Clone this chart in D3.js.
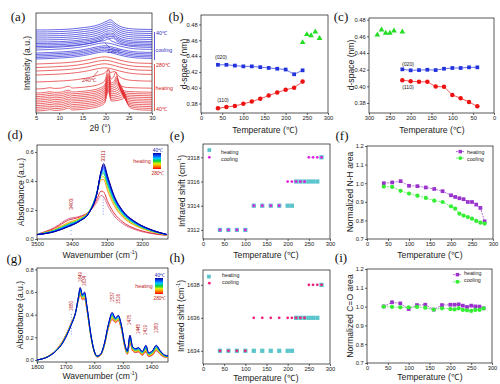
<!DOCTYPE html>
<html>
<head>
<meta charset="utf-8">
<script src="https://cdn.jsdelivr.net/npm/d3@7"></script>
<style>
  body { margin: 0; background: #fff; }
</style>
</head>
<body>
<svg id="fig" width="500" height="384"></svg>
<script>
// ---------- (a) XRD stacks ----------
const heatT = [40,60,80,100,120,140,160,180,200,210,220,230,240,250,260,270,280];
const heatBase = [2,3.8,5.6,7.4,9.2,11,12.8,14.6,16.4,18.2,20,24,31,38,42,45.5,49];
const heatP2 = [24.2,24.0,23.8,23.6,23.4,23.2,23.0,22.8,22.6,22.5,22.4,22.2];   // 2nd reflection, 40..230
const alphaLeft = [[5,0],[7,0.6],[8,1.3],[9,0.6],[10.5,1],[12.1,2.8],[12.8,1],[14.5,1.5],[16.5,2.5],[18.5,4.5],[19.8,8],[20.6,20],[21.2,10]];
const alphaRight = [[-0.5,12],[0,17],[0.5,8],[1.2,3],[2.5,1.5]];   // relative to 2nd peak
const alphaTail = [[28,1],[30,0.8]];
const heat240 = [[5,0],[8,0.5],[11,1.2],[14,2.5],[16.5,4.5],[18.5,7],[19.8,9],[20.5,12],[21.1,9.5],[21.9,10.5],[22.8,6],[24,3],[26,1.5],[30,0.8]];
const meltShape = [[5,0],[8,0.5],[11,1.2],[14,2.5],[16.5,4.5],[18.5,6.5],[19.8,7.2],[21,6.5],[23,4],[25,2],[27,1],[30,0.6]];
const coolT = [280,270,260,250,240,230,220,210,200,180,160,140,120,100,80,60,40];
const coolBase = [54,55.5,57,58.5,60,63,65,66.5,68,69.5,71,73,75,77,79,81,83];
const cool220 = [[5,0],[8,0.5],[11,1.2],[14,2.5],[16.5,4.5],[18.5,6.5],[19.8,7.5],[20.6,9],[21.3,7],[23,4],[25,2],[27,1],[30,0.6]];
const coolCryst = [[5,0],[10,0.4],[13,1.2],[15.5,2.5],[17.5,4],[19.2,6.5],[20.3,9],[21,10],[21.6,8.5],[22.4,5.5],[23.5,3],[25,1.5],[27,0.8],[30,0.5]];
const coolPeak = [8,8.3,8.6,8.9,9.2,9.4,9.6,9.8,10,10.3];   // 210..40

// ---------- (b) heating d-spacing ----------
const bT = [40,60,80,100,120,140,160,180,200,220,240];
const b020 = [0.429,0.429,0.428,0.427,0.427,0.426,0.425,0.424,0.423,0.417,0.422];
const b110 = [0.374,0.3755,0.377,0.3796,0.3825,0.386,0.390,0.394,0.3973,0.400,0.4077];
const bMeltT = [240,250,260,270,280];
const bMelt = [0.4573,0.4674,0.466,0.4707,0.4624];

// ---------- (c) cooling d-spacing ----------
const cT = [220,200,180,160,140,120,100,80,60,40];
const c020 = [0.4204,0.4192,0.4195,0.4199,0.4195,0.4211,0.422,0.422,0.4228,0.4228];
const c110 = [0.4074,0.4062,0.4054,0.4054,0.3998,0.3994,0.3897,0.3857,0.3812,0.376];
const cMeltT = [280,270,260,250,240,220];
const cMelt = [0.4619,0.4679,0.4639,0.4639,0.4667,0.4655];

// ---------- (d) N-H stretching spectra (40 -> 280 C) ----------
const nhWave = [3500,3450,3410,3380,3350,3330,3317,3310,3298,3280,3255,3220,3180,3130];
const nhRows = [
  [0.030,0.050,0.085,0.120,0.185,0.300,0.470,0.520,0.430,0.300,0.195,0.120,0.070,0.032],
  [0.030,0.051,0.087,0.121,0.186,0.302,0.465,0.510,0.423,0.296,0.192,0.118,0.069,0.032],
  [0.030,0.052,0.089,0.122,0.187,0.304,0.460,0.500,0.415,0.291,0.189,0.116,0.068,0.031],
  [0.030,0.053,0.091,0.123,0.188,0.306,0.455,0.490,0.407,0.286,0.186,0.114,0.067,0.031],
  [0.030,0.054,0.093,0.125,0.189,0.308,0.450,0.480,0.398,0.280,0.182,0.112,0.066,0.031],
  [0.031,0.056,0.096,0.127,0.190,0.310,0.447,0.470,0.389,0.274,0.178,0.110,0.064,0.030],
  [0.031,0.058,0.099,0.129,0.191,0.312,0.443,0.460,0.379,0.267,0.174,0.107,0.063,0.030],
  [0.031,0.060,0.103,0.132,0.193,0.313,0.438,0.450,0.369,0.260,0.169,0.104,0.061,0.029],
  [0.031,0.063,0.108,0.136,0.195,0.310,0.425,0.430,0.350,0.246,0.160,0.098,0.058,0.028],
  [0.031,0.066,0.114,0.140,0.196,0.303,0.408,0.410,0.330,0.232,0.151,0.093,0.055,0.028],
  [0.032,0.074,0.130,0.150,0.192,0.268,0.330,0.325,0.257,0.179,0.117,0.072,0.044,0.026],
  [0.032,0.080,0.140,0.155,0.190,0.250,0.300,0.292,0.230,0.160,0.105,0.065,0.040,0.025]
];
const nhColors = ["#000090","#0000D0","#0022FF","#0055FF","#0088FF","#00BBFF","#00CCAA","#22CC33","#CCDD00","#FF8800","#E02030","#D8607F"];

// ---------- (e) N-H band position ----------
const shiftT = [40,60,80,100,120,140,160,180,200,210,220,230,240,250,260,270,280];
const eHeat = [3312,3312,3312,3312,3314,3314,3314,3314,3314,3314,3316,3316,3316,3316,3316,3316,3318];
const eCool = [3312,3312,3312,3312,3314,3314,3314,3314,3316,3316,3316,3316,3316,3318,3318,3318,3318];

// ---------- (f) N-H area ----------
const areaT = [40,60,80,100,120,140,160,180,200,210,220,230,240,250,260,270,280];
const fHeat = [1.000,1.004,1.011,0.986,0.984,0.977,0.969,0.957,0.935,0.926,0.919,0.914,0.899,0.899,0.885,0.867,0.795];
const fCool = [0.982,0.980,0.959,0.944,0.933,0.921,0.906,0.899,0.876,0.863,0.836,0.826,0.818,0.809,0.797,0.788,0.783];

// ---------- (g) amide spectra ----------
const amWave = [1800,1760,1735,1710,1690,1680,1665,1655,1649,1641,1634,1625,1612,1600,1590,1578,1565,1550,1537,1526,1516,1505,1493,1484,1475,1466,1455,1445,1432,1419,1410,1397,1383,1370,1355,1340];
const amRows = [
  [0.000,0.030,0.075,0.150,0.250,0.310,0.420,0.560,0.640,0.575,0.600,0.470,0.230,0.080,0.035,0.050,0.140,0.320,0.420,0.370,0.395,0.310,0.140,0.080,0.220,0.120,0.100,0.110,0.075,0.130,0.065,0.080,0.130,0.085,0.045,0.035],
  [0.000,0.031,0.076,0.152,0.252,0.312,0.420,0.556,0.632,0.570,0.593,0.465,0.228,0.079,0.034,0.049,0.138,0.316,0.412,0.365,0.389,0.305,0.136,0.076,0.212,0.115,0.096,0.105,0.071,0.123,0.061,0.075,0.124,0.081,0.043,0.033],
  [0.000,0.031,0.078,0.155,0.255,0.315,0.420,0.553,0.624,0.564,0.585,0.460,0.225,0.078,0.033,0.048,0.135,0.311,0.404,0.360,0.383,0.300,0.133,0.073,0.203,0.110,0.091,0.100,0.066,0.115,0.056,0.070,0.118,0.076,0.040,0.031],
  [0.000,0.032,0.079,0.158,0.258,0.318,0.420,0.548,0.614,0.557,0.576,0.454,0.222,0.076,0.031,0.046,0.132,0.306,0.394,0.354,0.375,0.294,0.128,0.068,0.192,0.104,0.086,0.094,0.061,0.106,0.051,0.064,0.110,0.071,0.037,0.029],
  [0.000,0.033,0.081,0.161,0.261,0.321,0.420,0.544,0.604,0.550,0.567,0.448,0.219,0.075,0.030,0.045,0.129,0.301,0.384,0.348,0.368,0.288,0.124,0.064,0.182,0.098,0.081,0.088,0.056,0.097,0.046,0.058,0.103,0.066,0.034,0.027],
  [0.000,0.034,0.082,0.164,0.264,0.324,0.420,0.539,0.595,0.544,0.558,0.442,0.216,0.073,0.028,0.043,0.126,0.296,0.375,0.342,0.360,0.282,0.119,0.059,0.171,0.092,0.076,0.082,0.051,0.088,0.041,0.052,0.095,0.061,0.031,0.025],
  [0.000,0.034,0.084,0.167,0.267,0.327,0.420,0.535,0.585,0.537,0.549,0.436,0.213,0.072,0.027,0.042,0.123,0.290,0.365,0.336,0.353,0.276,0.115,0.055,0.161,0.086,0.070,0.076,0.045,0.079,0.035,0.046,0.088,0.055,0.028,0.022],
  [0.000,0.035,0.085,0.170,0.270,0.330,0.420,0.530,0.575,0.530,0.540,0.430,0.210,0.070,0.025,0.040,0.120,0.285,0.355,0.330,0.345,0.270,0.110,0.050,0.150,0.080,0.065,0.070,0.040,0.070,0.030,0.040,0.080,0.050,0.025,0.020]
];
const amColors = ["#0000B0","#0044FF","#00AAFF","#00CC66","#99DD00","#FFCC00","#FF4400","#E0507A"];
const amPeaks = [1680,1649,1634,1537,1516,1475,1445,1419,1383];

// ---------- (h) C=O band position ----------
const hHeat = [1634,1634,1634,1634,1634,1634,1634,1634,1634,1634,1636,1636,1636,1636,1636,1636,1638];
const hCool = [1634,1634,1634,1634,1636,1636,1636,1636,1636,1636,1636,1636,1636,1638,1638,1638,1638];

// ---------- (i) C=O area ----------
const iHeat = [1.001,1.023,1.017,0.987,1.008,1.010,0.984,1.008,1.010,1.010,1.012,1.005,0.998,1.005,1.001,1.000,0.991];
const iCool = [1.000,0.998,0.996,0.996,0.998,0.994,0.984,0.991,0.987,0.985,0.991,0.982,0.980,0.977,0.982,0.982,0.991];

const tempTicks = [0,50,100,150,200,250,300];
const sans = 'Liberation Sans, Arial, sans-serif';
const serif = 'Liberation Serif, Times New Roman, serif';
const titleSize = 8.6;
const svg = d3.select('#fig');
let clipN = 0;

function panel(box, xDom, yDom, xTicks, yTicks, yFmt) {
  const [x0, y0, x1, y1] = box;
  const x = d3.scaleLinear().domain(xDom).range([x0, x1]);
  const y = d3.scaleLinear().domain(yDom).range([y1, y0]);
  const g = svg.append('g');
  const id = 'clip' + (clipN++);
  g.append('clipPath').attr('id', id).append('rect')
    .attr('x', x0).attr('y', y0).attr('width', x1 - x0).attr('height', y1 - y0);
  const xa = g.append('g').attr('transform', `translate(0,${y1})`)
    .call(d3.axisBottom(x).tickValues(xTicks).tickSize(2).tickPadding(1.2).tickFormat(d3.format('d')));
  const ya = g.append('g').attr('transform', `translate(${x0},0)`)
    .call(d3.axisLeft(y).tickValues(yTicks).tickSize(2).tickPadding(1.2).tickFormat(yFmt || d3.format('d')));
  [xa, ya].forEach(a => {
    a.select('.domain').remove();
    a.selectAll('line').attr('stroke', '#000').attr('stroke-width', 0.6);
    a.selectAll('text').attr('font-size', 5.8).attr('fill', '#222').attr('font-family', sans);
  });
  g.append('rect').attr('x', x0).attr('y', y0).attr('width', x1 - x0).attr('height', y1 - y0)
    .attr('fill', 'none').attr('stroke', '#111').attr('stroke-width', 0.7);
  const plot = g.append('g').attr('clip-path', `url(#${id})`);
  return { x, y, g, plot };
}

function txt(x, y, s, o = {}) {
  const size = o.size || titleSize;
  const t = svg.append('text').attr('x', x).attr('y', y)
    .attr('font-size', size).attr('text-anchor', o.anchor || 'middle')
    .attr('dominant-baseline', 'central').attr('fill', o.fill || '#222')
    .attr('font-family', o.family || sans);
  if (o.rot) t.attr('transform', `rotate(${o.rot},${x},${y})`);
  if (o.sup) {
    t.append('tspan').text(s);
    t.append('tspan').text(o.sup).attr('font-size', size * 0.62).attr('dy', -3);
    t.append('tspan').text(o.after || '').attr('dy', 3);
  } else t.text(s);
  return t;
}

function markers(p, xs, ys, shape, size, color) {
  const sym = d3.symbol().type(shape).size(size);
  p.plot.selectAll(null).data(xs).join('path')
    .attr('transform', (d, i) => `translate(${p.x(d)},${p.y(ys[i])})`)
    .attr('d', sym).attr('fill', color);
}
function trace(p, xs, ys, color, dash) {
  p.plot.append('path').datum(xs)
    .attr('d', d3.line().x(d => p.x(d)).y((d, i) => p.y(ys[i])))
    .attr('fill', 'none').attr('stroke', color).attr('stroke-width', 0.7)
    .attr('stroke-dasharray', dash || null);
}

// ======== (a) ========
const pa = panel([36,13,152,113], [5,30], [0,100], [5,10,15,20,25,30], []);
const xrdLine = base => d3.line().x(d => pa.x(d[0])).y(d => pa.y(base + d[1])).curve(d3.curveMonotoneX);
heatT.forEach((t, i) => {
  let pts;
  if (i < heatP2.length) pts = alphaLeft.concat(alphaRight.map(d => [heatP2[i] + d[0], d[1]]), alphaTail);
  else if (t === 240) pts = heat240;
  else pts = meltShape;
  pa.plot.append('path').attr('d', xrdLine(heatBase[i])(pts))
    .attr('fill', 'none').attr('stroke', '#E3262B').attr('stroke-width', 0.7);
});
coolT.forEach((t, i) => {
  let pts;
  if (t >= 230) pts = meltShape;
  else if (t === 220) pts = cool220;
  else pts = coolCryst.map(d => d[0] === 21 ? [21, coolPeak[i - 7]] : d);
  pa.plot.append('path').attr('d', xrdLine(coolBase[i])(pts))
    .attr('fill', 'none').attr('stroke', '#2A2AD8').attr('stroke-width', 0.7);
});
svg.append('line').attr('x1', 154.5).attr('x2', 154.5).attr('y1', 32).attr('y2', 60).attr('stroke', '#3030D0').attr('stroke-width', 0.8);
svg.append('line').attr('x1', 154.5).attr('x2', 154.5).attr('y1', 64).attr('y2', 111).attr('stroke', '#E03030').attr('stroke-width', 0.8);
txt(156, 33, '40℃', { size: 5.3, anchor: 'start', fill: '#3030C0' });
txt(155.5, 50, 'cooling', { size: 5.3, anchor: 'start', fill: '#3030C0' });
txt(156, 65, '280℃', { size: 5.3, anchor: 'start', fill: '#D02020' });
txt(155.5, 88, 'heating', { size: 5.3, anchor: 'start', fill: '#D02020' });
txt(156, 109, '40℃', { size: 5.3, anchor: 'start', fill: '#D02020' });
txt(114, 51, '220℃', { size: 5.3, fill: '#3030C0' });
svg.append('line').attr('x1', 110).attr('y1', 48).attr('x2', 105).attr('y2', 43).attr('stroke', '#3030C0').attr('stroke-width', 0.6);
txt(89, 80, '240℃', { size: 5.3, fill: '#C02020' });
svg.append('line').attr('x1', 93).attr('y1', 77).attr('x2', 98).attr('y2', 71).attr('stroke', '#C02020').attr('stroke-width', 0.6);
txt(27, 63, 'Intensity (a.u.)', { rot: -90 });
txt(100, 128, '2θ (°)');

// ======== (b) ========
const pb = panel([201,15,328,113], [0,300], [0.368,0.492], tempTicks, [0.38,0.40,0.42,0.44,0.46,0.48], d3.format('.2f'));
trace(pb, bT, b020, '#2233DD');
trace(pb, bT, b110, '#EE1111');
markers(pb, bT, b020, d3.symbolSquare, 14, '#2233DD');
markers(pb, bT, b110, d3.symbolCircle, 16, '#EE1111');
markers(pb, bMeltT, bMelt, d3.symbolTriangle, 14, '#22DD22');
txt(221, 57, '(020)', { size: 5.2 });
txt(223, 100, '(110)', { size: 5.2 });
txt(184, 64, 'd-space (nm)', { rot: -90 });
txt(265, 130, 'Temperature (℃)');

// ======== (c) ========
const pc = panel([369,18,494,113], [300,0], [0.368,0.482], tempTicks, [0.38,0.40,0.42,0.44,0.46,0.48], d3.format('.2f'));
trace(pc, cT, c020, '#2233DD');
trace(pc, cT, c110, '#EE1111');
markers(pc, cT, c020, d3.symbolSquare, 14, '#2233DD');
markers(pc, cT, c110, d3.symbolCircle, 16, '#EE1111');
markers(pc, cMeltT, cMelt, d3.symbolTriangle, 14, '#22DD22');
txt(408, 64, '(020)', { size: 5.2 });
txt(408, 87, '(110)', { size: 5.2 });
txt(351, 65, 'd-space (nm)', { rot: -90 });
txt(432, 130, 'Temperature (℃)');

// colour bar gradient for the spectra legends
const grad = svg.append('defs').append('linearGradient').attr('id', 'rainbow')
  .attr('x1', 0).attr('y1', 0).attr('x2', 0).attr('y2', 1);
["#0000A0","#0050FF","#00C8FF","#00D040","#E8F000","#FF8000","#FF0000"].forEach((c, i, a) =>
  grad.append('stop').attr('offset', i / (a.length - 1)).attr('stop-color', c));

function specLegend(bx, by) {
  svg.append('rect').attr('x', bx).attr('y', by).attr('width', 8).attr('height', 16).attr('fill', 'url(#rainbow)');
  txt(bx + 5, by - 3, '40℃', { size: 4.8, fill: '#2020B0' });
  txt(bx - 11, by + 8, 'heating', { size: 5.3, fill: '#C02020' });
  txt(bx + 5, by + 20, '280℃', { size: 4.8, fill: '#C02020' });
}

// ======== (d) ========
const pd = panel([37,145,168,239], [3500,3126], [0,0.648], [3500,3400,3300,3200], [0,0.2,0.4,0.6], d3.format('.1f'));
const nhLine = d3.line().x((d, i) => pd.x(nhWave[i])).y(d => pd.y(d)).curve(d3.curveMonotoneX);
nhRows.slice().reverse().forEach((row, k) => {
  pd.plot.append('path').attr('d', nhLine(row)).attr('fill', 'none')
    .attr('stroke', nhColors[nhRows.length - 1 - k]).attr('stroke-width', 0.9);
});
pd.plot.append('line').attr('x1', pd.x(3311)).attr('x2', pd.x(3311)).attr('y1', pd.y(0.17)).attr('y2', pd.y(0.30))
  .attr('stroke', '#5060E0').attr('stroke-width', 0.9).attr('stroke-dasharray', '0.8,2');
pd.plot.append('line').attr('x1', pd.x(3403)).attr('x2', pd.x(3403)).attr('y1', pd.y(0.03)).attr('y2', pd.y(0.15))
  .attr('stroke', '#5060E0').attr('stroke-width', 0.9).attr('stroke-dasharray', '0.8,3');
txt(pd.x(3311), 156, '3311', { size: 5.2, rot: -90, fill: '#B02020' });
txt(pd.x(3403), 204, '3403', { size: 5.2, rot: -90, fill: '#B02020' });
specLegend(153, 153);
txt(21, 192, 'Absorbance (a.u.)', { rot: -90 });
txt(100, 255, 'Wavenumber (cm', { sup: '-1', after: ')' });

// ======== (e) ========
const pe = panel([203,144,330,239], [0,300], [3311.25,3319.1], tempTicks, [3312,3314,3316,3318]);
markers(pe, shiftT, eHeat, d3.symbolSquare, 18, '#5CC4CC');
markers(pe, shiftT, eCool, d3.symbolCircle, 6, '#E020E0');
markers(pe, [15], [3318.6], d3.symbolSquare, 14, '#5CC4CC');
markers(pe, [15], [3318.0], d3.symbolCircle, 6, '#E020E0');
txt(221, 152, 'heating', { size: 5.3, anchor: 'start' });
txt(221, 159, 'cooling', { size: 5.3, anchor: 'start' });
txt(182, 191, 'Infrared shift (cm', { rot: -90, sup: '-1', after: ')' });
txt(266, 255, 'Temperature (℃)');

// ======== (f) ========
const pf = panel([367,146,493,239], [0,300], [0.7,1.2], tempTicks, [0.7,0.8,0.9,1.0,1.1,1.2], d3.format('.1f'));
trace(pf, areaT, fHeat, '#9933CC', '2,1');
trace(pf, areaT, fCool, '#33EE33', '2,1');
markers(pf, areaT, fHeat, d3.symbolSquare, 14, '#9933CC');
markers(pf, areaT, fCool, d3.symbolCircle, 14, '#33EE33');
trace(pf, [212,232], [1.17,1.17], '#9933CC', '2,1');
trace(pf, [212,232], [1.135,1.135], '#33EE33', '2,1');
markers(pf, [222], [1.17], d3.symbolSquare, 12, '#9933CC');
markers(pf, [222], [1.135], d3.symbolCircle, 12, '#33EE33');
txt(467, 152, 'heating', { size: 5.3, anchor: 'start' });
txt(467, 158.5, 'cooling', { size: 5.3, anchor: 'start' });
txt(350, 192, 'Normalized N-H area', { rot: -90 });
txt(430, 255, 'Temperature (℃)');

// ======== (g) ========
const pg = panel([37,268,168,362], [1800,1342], [-0.018,0.812], [1800,1700,1600,1500,1400], [0,0.2,0.4,0.6,0.8], d3.format('.1f'));
const amLine = d3.line().x((d, i) => pg.x(amWave[i])).y(d => pg.y(d)).curve(d3.curveMonotoneX);
amRows.slice().reverse().forEach((row, k) => {
  pg.plot.append('path').attr('d', amLine(row)).attr('fill', 'none')
    .attr('stroke', amColors[amRows.length - 1 - k]).attr('stroke-width', 1);
});
const amLabelY = [306,277,281,297,299,320,329,330,328];
amPeaks.forEach((w, i) => txt(pg.x(w), amLabelY[i], String(w), { size: 4.6, rot: -90, fill: '#B02020' }));
pg.plot.append('line').attr('x1', pg.x(1680)).attr('x2', pg.x(1680)).attr('y1', 314).attr('y2', 336)
  .attr('stroke', '#5060E0').attr('stroke-width', 0.9).attr('stroke-dasharray', '0.8,2');
specLegend(155, 278);
txt(20, 315, 'Absorbance (a.u.)', { rot: -90 });
txt(100, 375.5, 'Wavenumber (cm', { sup: '-1', after: ')' });

// ======== (h) ========
const ph = panel([203,270,330,364], [0,300], [1633.2,1638.9], tempTicks, [1634,1636,1638]);
markers(ph, shiftT, hHeat, d3.symbolSquare, 18, '#5CC4CC');
markers(ph, shiftT, hCool, d3.symbolCircle, 6, '#F0207A');
markers(ph, [14], [1638.5], d3.symbolSquare, 14, '#5CC4CC');
markers(ph, [15], [1638.1], d3.symbolCircle, 6, '#F0207A');
txt(222, 275, 'heating', { size: 5.3, anchor: 'start' });
txt(222, 281.5, 'cooling', { size: 5.3, anchor: 'start' });
txt(181, 316, 'Infrared shift (cm', { rot: -90, sup: '-1', after: ')' });
txt(266, 377.5, 'Temperature (℃)');

// ======== (i) ========
const pi = panel([367,269,492,363], [0,300], [0.7,1.2], tempTicks, [0.7,0.8,0.9,1.0,1.1,1.2], d3.format('.1f'));
trace(pi, areaT, iHeat, '#9933CC', '2,1');
trace(pi, areaT, iCool, '#33EE33', '2,1');
markers(pi, areaT, iHeat, d3.symbolSquare, 14, '#9933CC');
markers(pi, areaT, iCool, d3.symbolCircle, 14, '#33EE33');
trace(pi, [206,228], [1.17,1.17], '#9933CC', '2,1');
trace(pi, [206,228], [1.132,1.132], '#33EE33', '2,1');
markers(pi, [217], [1.17], d3.symbolSquare, 12, '#9933CC');
markers(pi, [217], [1.132], d3.symbolCircle, 12, '#33EE33');
txt(464, 272.5, 'heating', { size: 5.3, anchor: 'start' });
txt(464, 279.5, 'cooling', { size: 5.3, anchor: 'start' });
txt(350, 316, 'Normalized C=O area', { rot: -90 });
txt(430, 377, 'Temperature (℃)');

// panel letters
[['(a)',18,16],['(b)',176,16],['(c)',341,16],['(d)',15,134],['(e)',177,135],['(f)',342,135],['(g)',14,258],['(h)',177,257],['(i)',341,257]]
  .forEach(d => txt(d[1], d[2], d[0], { size: 13, family: serif, fill: '#111' }));
</script>
</body>
</html>
